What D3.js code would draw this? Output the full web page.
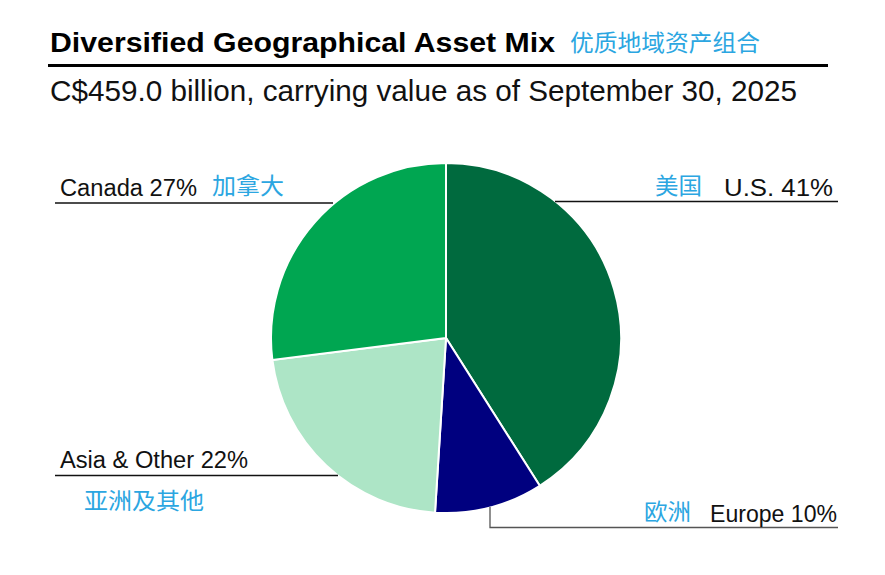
<!DOCTYPE html>
<html>
<head>
<meta charset="utf-8">
<script src="https://cdn.jsdelivr.net/npm/d3@7.9.0/dist/d3.min.js"></script>
<style>
  body { margin: 0; background: #fff; }
  text { font-family: "Liberation Sans", Arial, sans-serif; }
  .cn { font-family: "Noto Sans CJK SC", sans-serif; fill: #2ba6e1; }
</style>
</head>
<body>
<div id="chart"></div>
<script>
const regions = ['U.S.', 'Europe', 'Asia & Other', 'Canada'];
const shares = [41, 10, 22, 27];
const regionsCn = ['美国', '欧洲', '亚洲及其他', '加拿大'];
const colors = ['#006a3e', '#00007f', '#ade5c6', '#00a651'];

const width = 885, height = 575;
const cx = 446, cy = 338, radius = 175;

const svg = d3.select('#chart').append('svg')
  .attr('width', width).attr('height', height);

// the source text is drawn a little wide, so fit to measured widths
function txt(x, y, t, size, len, opts = {}) {
  const el = svg.append('text').attr('x', x).attr('y', y)
    .style('font-size', size + 'px')
    .attr('textLength', len).attr('lengthAdjust', 'spacingAndGlyphs')
    .attr('fill', '#111').text(t);
  if (opts.cn) el.attr('class', 'cn');
  if (opts.bold) el.style('font-weight', 'bold').attr('fill', '#000');
  return el;
}

// title
txt(50, 52, 'Diversified Geographical Asset Mix', 27, 505, { bold: true });
txt(570, 51, '优质地域资产组合', 23, 190, { cn: true });

svg.append('line').attr('x1', 48).attr('x2', 828).attr('y1', 65.5).attr('y2', 65.5)
  .attr('stroke', '#000').attr('stroke-width', 3);

txt(50, 101, 'C$459.0 billion, carrying value as of September 30, 2025', 29.5, 747);

// pie
const pie = d3.pie().sort(null).value(d => d)(shares);
const arc = d3.arc().innerRadius(0).outerRadius(radius);

svg.append('g').attr('transform', `translate(${cx},${cy})`)
  .selectAll('path')
  .data(pie)
  .join('path')
  .attr('d', arc)
  .attr('fill', (d, i) => colors[i])
  .attr('stroke', '#fff')
  .attr('stroke-width', 2);

// leader lines
const lines = svg.append('g').attr('fill', 'none').attr('stroke-width', 1.3);
lines.append('path').attr('stroke', '#111').attr('d', 'M555,201.5H838');
lines.append('path').attr('stroke', '#111').attr('d', 'M55,203H333');
lines.append('path').attr('stroke', '#111').attr('d', 'M55,475.5H338');
lines.append('path').attr('stroke', '#555').attr('d', 'M490,507V527.5H838');

// labels
txt(724, 196, `${regions[0]}  ${shares[0]}%`, 23.5, 109);
txt(655, 194, regionsCn[0], 23, 47, { cn: true });

txt(60, 196, `${regions[3]} ${shares[3]}%`, 23.5, 137);
txt(212, 194, regionsCn[3], 23, 72, { cn: true });

txt(60, 468, `${regions[2]} ${shares[2]}%`, 23.5, 188);
txt(84, 509, regionsCn[2], 23, 120, { cn: true });

txt(710, 522, `${regions[1]} ${shares[1]}%`, 23.5, 127);
txt(644, 520, regionsCn[1], 23, 47, { cn: true });
</script>
</body>
</html>
